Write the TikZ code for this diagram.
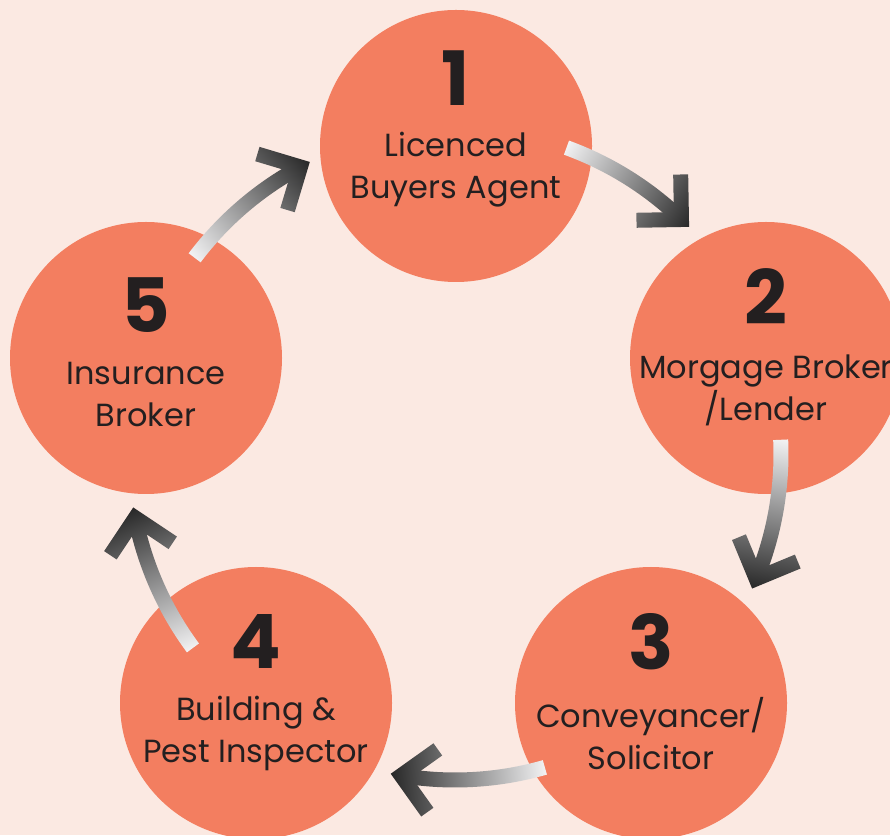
\documentclass[tikz,border=0pt]{standalone}
\usepackage{fontspec}
\setmainfont{Poppins}
\usetikzlibrary{calc,positioning}

\definecolor{bgpeach}{HTML}{FBE9E2}
\definecolor{stepcoral}{HTML}{F37E60}
\definecolor{inkgrey}{HTML}{231F20}
\definecolor{tailgrey}{HTML}{F4F4F5}
\definecolor{headgrey}{HTML}{232323}

\def\ringrad{326}
\def\bandw{15}
\def\armlen{45}

% gradient box from tail to head of one arrow
\newcommand{\shadestrip}[2]{%
   \pgfmathsetmacro{\striplen}{2*\ringrad*sin((#1-#2)/2)+14}%
   \begin{scope}[transform canvas={shift={($(hub)+(#1:\ringrad)$)}, rotate={(#1+#2)/2-90}}]
      \shade[left color=tailgrey, right color=headgrey] (-2,-90) rectangle (\striplen,90);
   \end{scope}}

% curved arrow on the ring, from angle #1 to angle #2 (clockwise)
\newcommand{\cyclearrow}[2]{%
   \begin{scope}
      \clip ($(hub)+(#1:\ringrad+\bandw/2)$)
         arc[start angle=#1, end angle=#2, radius=\ringrad+\bandw/2]
         -- ($(hub)+(#2:\ringrad-\bandw/2)$)
         arc[start angle=#2, end angle=#1, radius=\ringrad-\bandw/2] -- cycle;
      \shadestrip{#1}{#2}
   \end{scope}
   \begin{scope}
      \clip ($(hub)+(#2:\ringrad)+(#2-90:\bandw*0.7071)$)
         -- ($(hub)+(#2:\ringrad)+(#2-135:\bandw/2)+(#2+135:\armlen)$)
         -- ($(hub)+(#2:\ringrad)+(#2+45:\bandw/2)+(#2+135:\armlen)$)
         -- ($(hub)+(#2:\ringrad)+(#2+90:\bandw*0.7071)$)
         -- ($(hub)+(#2:\ringrad)+(#2+135:\bandw/2)+(#2+45:\armlen)$)
         -- ($(hub)+(#2:\ringrad)+(#2-45:\bandw/2)+(#2+45:\armlen)$) -- cycle;
      \shadestrip{#1}{#2}
   \end{scope}}

\begin{document}
\begin{tikzpicture}[x=1pt, y=1pt,
      stepcircle/.style = {circle, fill=stepcoral, minimum size=272pt, inner sep=0pt},
      stepnum/.style = {font=\fontsize{75}{75}\selectfont\bfseries, text=inkgrey, inner sep=0pt},
      steplabel/.style = {font=\fontsize{32}{42}\selectfont, text=inkgrey, align=center,
         inner sep=0pt, anchor=base}
]
   \useasboundingbox (0,0) rectangle (890,835);
   \clip (0,0) rectangle (890,835);
   \fill[bgpeach] (0,0) rectangle (890,835);

   \coordinate (hub) at (455,381);

   % the five steps
   \node[stepcircle] (c1) at (456,689) {};
   \node[stepcircle] (c2) at (766,477) {};
   \node[stepcircle] (c3) at (651,132) {};
   \node[stepcircle] (c4) at (256,132) {};
   \node[stepcircle] (c5) at (146,477) {};

   \node[stepnum] (num1) at ([yshift=67.5]c1.center) {1};
   \node[stepnum] (num2) at ([yshift=61.5]c2.center) {2};
   \node[stepnum] (num3) at ([yshift=61.5]c3.center) {3};
   \node[stepnum] (num4) at ([yshift=61.5]c4.center) {4};
   \node[stepnum] (num5) at ([yshift=53]c5.center)   {5};

   % base anchor sits on the last line
   \node[steplabel] (lab1) at ([yshift=-53]c1.center) {Licenced\\Buyers Agent};
   \node[steplabel] (lab2) at ([yshift=-63]c2.center) {Morgage Broker\\/Lender};
   \node[steplabel] (lab3) at ([yshift=-66]c3.center) {Conveyancer/\\Solicitor};
   \node[steplabel] (lab4) at ([yshift=-59]c4.center) {Building \&\\Pest Inspector};
   \node[steplabel] (lab5) at ([yshift=-69]c5.center) {Insurance\\Broker};

   % arrows round the ring
   \cyclearrow{70}{46}       % 1 -> 2
   \cyclearrow{2.5}{-22.5}   % 2 -> 3
   \cyclearrow{-74}{-99.5}   % 3 -> 4
   \cyclearrow{-143.5}{-168.7} % 4 -> 5
   \cyclearrow{143}{118.3}   % 5 -> 1
\end{tikzpicture}
\end{document}
